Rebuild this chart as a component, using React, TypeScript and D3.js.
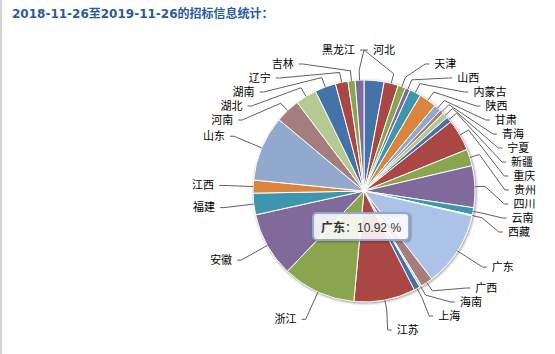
import React, { useLayoutEffect, useRef, useState } from 'react';
import * as d3 from 'd3';

const TITLE = '2018-11-26至2019-11-26的招标信息统计：';
const provinces = ['北京', '河北', '天津', '山西', '内蒙古', '陕西', '甘肃', '青海', '宁夏', '新疆', '重庆', '贵州', '四川', '云南', '西藏', '广东', '广西', '海南', '上海', '江苏', '浙江', '安徽', '福建', '江西', '山东', '河南', '湖北', '湖南', '辽宁', '吉林', '黑龙江'];
const shares = [2.92, 2.06, 1.14, 0.69, 1.67, 2.56, 1.03, 0.58, 0.83, 0.81, 4.61, 2.44, 6.08, 1.06, 0.14, 10.92, 1.81, 0.28, 0.89, 8.94, 10.67, 9.42, 3.14, 1.89, 9.53, 3.61, 3.08, 3.06, 1.83, 1.03, 1.28];
const palette = ['#4572A7', '#AA4643', '#89A54E', '#80699B', '#3D96AE', '#DB843D', '#92A8CD', '#A47D7C', '#B5CA92'];
const hiddenLabels = ['北京'];
const hoveredName = '广东';

const W = 555;
const H = 354;
const CX = 364;
const CY = 191;
const R = 111;
const LABEL_DIST = 30;
const LABEL_H = 14;
const FONT = '"Liberation Sans", "Noto Sans CJK SC", sans-serif';

function brighten(c: string, amt: number) {
  const rgb = d3.rgb(c);
  const f = (v: number) => Math.min(255, Math.round(v + 255 * amt));
  return d3.rgb(f(rgb.r), f(rgb.g), f(rgb.b)).formatHex();
}

export default function App() {
  const tipRef = useRef<SVGTextElement>(null);
  const [tipW, setTipW] = useState(76);
  useLayoutEffect(() => {
    if (tipRef.current) setTipW(tipRef.current.getComputedTextLength());
  }, []);

  const data = provinces.map((name, i) => ({ name, value: shares[i], color: palette[i % palette.length] }));
  const total = d3.sum(shares);
  const arcs = d3.pie<any>().sort(null).value((d: any) => d.value).startAngle(0).endAngle(2 * Math.PI)(data);
  const arcGen = d3.arc<any>().innerRadius(0).outerRadius(R);
  const LR = R + LABEL_DIST;

  const labels: any[] = arcs
    .filter((a) => !hiddenLabels.includes(a.data.name))
    .map((a) => {
      const mid = (a.startAngle + a.endAngle) / 2;
      return { a, mid, right: mid < Math.PI, ny: CY - LR * Math.cos(mid), x: 0, y: 0 };
    });

  // slot based anti-collision, per side
  const slots: number[] = [];
  for (let p = CY - LR; p <= CY + LR + 0.01; p += LABEL_H) slots.push(p);
  [true, false].forEach((side) => {
    const items = labels.filter((l) => l.right === side).sort((p, q) => p.ny - q.ny);
    const n = items.length;
    const taken = slots.map(() => false);
    let prev = -1;
    items.forEach((l, j) => {
      let best = -1;
      let bd = Infinity;
      slots.forEach((s, k) => {
        if (!taken[k] && Math.abs(s - l.ny) < bd) {
          bd = Math.abs(s - l.ny);
          best = k;
        }
      });
      let idx = Math.max(best, prev + 1);
      idx = Math.min(idx, slots.length - (n - j));
      while (taken[idx]) idx++;
      taken[idx] = true;
      l.slot = idx;
      prev = idx;
    });
    items.forEach((l) => {
      const k = l.slot;
      let y = slots[k];
      if ((l.ny > y && k + 1 < slots.length && !taken[k + 1]) || (l.ny < y && k - 1 >= 0 && !taken[k - 1])) y = l.ny;
      l.y = y;
      const dy = l.y - CY;
      l.x = CX + (side ? 1 : -1) * Math.sqrt(Math.max(0, LR * LR - dy * dy));
    });
  });

  const hovered = arcs.find((a) => a.data.name === hoveredName)!;
  const pct = (hovered.data.value / total) * 100;
  const tipX = CX - 51;
  const tipY = CY + 22;
  const tipBoxW = tipW + 16;
  const tipBoxH = 27;

  return (
    <svg width={W} height={H} style={{ position: 'absolute', left: 0, top: 0, background: '#fff' }}>
      <rect x={0} y={0} width={W} height={H} fill="#fff" />
      <rect x={0} y={0} width={2} height={H} fill="#d4d4d4" />
      <text x={12} y={18} fontFamily={'"DejaVu Sans", "Noto Sans CJK SC", sans-serif'} fontWeight="bold" fontSize={12} fill="#2a5a9c">
        {TITLE}
      </text>

      <g transform={`translate(${CX},${CY})`}>
        <g transform="translate(1,1)" fill="none" stroke="#000">
          <circle r={R} strokeOpacity={0.05} strokeWidth={5} />
          <circle r={R} strokeOpacity={0.1} strokeWidth={3} />
          <circle r={R} strokeOpacity={0.15} strokeWidth={1} />
        </g>
        {arcs.map((a, i) => (
          <path
            key={i}
            d={arcGen(a) as string}
            fill={a.data.name === hoveredName ? brighten(a.data.color, 0.1) : a.data.color}
            stroke="#fff"
            strokeWidth={1}
            strokeLinejoin="round"
          />
        ))}
      </g>

      <g>
        {labels.map((l, i) => {
          const s = l.right ? 1 : -1;
          const bx = CX + (R + 10) * Math.sin(l.mid);
          const by = CY - (R + 10) * Math.cos(l.mid);
          const ex = CX + R * Math.sin(l.mid);
          const ey = CY - R * Math.cos(l.mid);
          const d = `M${l.x + s * 4},${l.y}L${l.x},${l.y}L${bx},${by}L${ex},${ey}`;
          return (
            <g key={i}>
              <path d={d} fill="none" stroke="#606060" strokeWidth={1} />
              <text
                x={l.x + s * 9}
                y={l.y}
                dy="0.35em"
                textAnchor={l.right ? 'start' : 'end'}
                fontFamily={FONT}
                fontSize={11}
                fill="#000"
              >
                {l.a.data.name}
              </text>
            </g>
          );
        })}
      </g>

      <g transform={`translate(${tipX},${tipY})`}>
        <g transform="translate(1,1)" fill="none" stroke="#000">
          <rect width={tipBoxW} height={tipBoxH} rx={4} strokeOpacity={0.05} strokeWidth={5} />
          <rect width={tipBoxW} height={tipBoxH} rx={4} strokeOpacity={0.1} strokeWidth={3} />
          <rect width={tipBoxW} height={tipBoxH} rx={4} strokeOpacity={0.15} strokeWidth={1} />
        </g>
        <rect width={tipBoxW} height={tipBoxH} rx={4} fill="rgba(255,255,255,0.88)" stroke={hovered.data.color} strokeWidth={2} />
        <text ref={tipRef} x={8} y={18.5} fontFamily={FONT} fontSize={12} fill="#333">
          <tspan fontWeight="bold">{hovered.data.name}</tspan>
          <tspan>{`：${pct.toFixed(2)} %`}</tspan>
        </text>
      </g>
    </svg>
  );
}
